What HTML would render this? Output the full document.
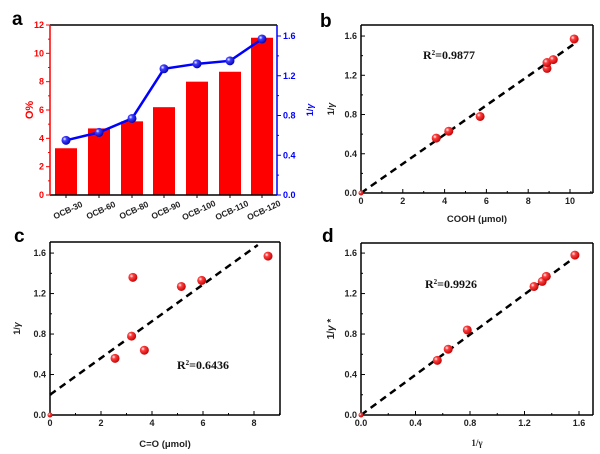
<!DOCTYPE html>
<html><head><meta charset="utf-8"><style>
html,body{margin:0;padding:0;background:#fff;width:600px;height:454px;overflow:hidden}
svg{display:block;font-family:"Liberation Sans",Arial,sans-serif}
</style></head><body>
<svg id="s" width="600" height="454" viewBox="0 0 600 454" xmlns="http://www.w3.org/2000/svg">
<defs>
<radialGradient id="rb" cx="0.35" cy="0.35" r="0.7"><stop offset="0" stop-color="#fff"/><stop offset="0.3" stop-color="#ff4040"/><stop offset="1" stop-color="#c00000"/></radialGradient>
<radialGradient id="bb" cx="0.35" cy="0.35" r="0.7"><stop offset="0" stop-color="#fff"/><stop offset="0.3" stop-color="#4040ff"/><stop offset="1" stop-color="#0000b0"/></radialGradient>
</defs>
<g id="g"></g>
<text x="12" y="25" font-size="19" font-weight="bold">a</text>
<text x="320" y="27" font-size="19" font-weight="bold">b</text>
<text x="14" y="242" font-size="19" font-weight="bold">c</text>
<text x="322" y="242" font-size="19" font-weight="bold">d</text>
</svg>
<script>
var g=document.getElementById('g'),h='';
function L(x1,y1,x2,y2,c,w,d){h+='<line x1="'+x1+'" y1="'+y1+'" x2="'+x2+'" y2="'+y2+'" stroke="'+c+'" stroke-width="'+(w||1)+'"'+(d?' stroke-dasharray="'+d+'"':'')+'/>';}
function T(x,y,s,o){o=o||{};h+='<text x="'+x+'" y="'+y+'" font-size="'+(o.fs||9)+'" font-weight="'+(o.fw||'bold')+'" fill="'+(o.c||'#222')+'" text-anchor="'+(o.a||'middle')+'"'+(o.t?' transform="'+o.t+'"':'')+(o.ff?' font-family="'+o.ff+'"':'')+'>'+s+'</text>';}
// Panel a
var ax0=50,ax1=277,ay0=195,ay1=25;
var vals=[3.3,4.7,5.2,6.2,8.0,8.7,11.1],lv=[0.55,0.63,0.77,1.27,1.32,1.35,1.57],cx=[66,99,132,164,197,230,262];
var names=['OCB-30','OCB-60','OCB-80','OCB-90','OCB-100','OCB-110','OCB-120'];
var yl=function(v){return ay0-v*(170/12);}, yr=function(v){return ay0-v*(159/1.6);};
for(var i=0;i<7;i++){h+='<rect x="'+(cx[i]-11)+'" y="'+yl(vals[i])+'" width="22" height="'+(ay0-yl(vals[i]))+'" fill="#ff0000"/>';}
var pts=cx.map(function(x,i){return x+','+yr(lv[i]);}).join(' ');
h+='<polyline points="'+pts+'" fill="none" stroke="#0000ff" stroke-width="2.5"/>';
for(i=0;i<7;i++)h+='<circle cx="'+cx[i]+'" cy="'+yr(lv[i])+'" r="4.5" fill="url(#bb)"/>';
L(ax0,ay1,ax1,ay1,'#000',1.5);L(ax0,ay0,ax1,ay0,'#000',1.5);
L(ax0,ay1,ax0,ay0,'#ff0000',1.5);L(ax1,ay1,ax1,ay0,'#0000ff',1.5);
for(var v=0;v<=12;v+=1){var y=yl(v);L(ax0-(v%2?2:4),y,ax0,y,'#ff0000',1);if(v%2==0)T(ax0-6,y+3,v,{c:'#ff0000',a:'end'});}
for(v=0;v<=8;v++){y=yr(v*0.2);L(ax1,y,ax1+(v%2?2:4),y,'#0000ff',1);if(v%2==0)T(ax1+6,y+3,(v*0.2).toFixed(1),{c:'#0000ff',a:'start'});}
for(i=0;i<7;i++){T(cx[i]+2,214,names[i],{fs:8.5,a:'middle',t:'rotate(-25 '+cx[i]+' 211)'});L(cx[i],ay0,cx[i],ay0+3,'#000',1);}
T(33,110,'O%',{c:'#ff0000',fs:11,t:'rotate(-90 33 110)'});
T(313,110,'1/<tspan font-style="italic">γ</tspan>',{c:'#0000ff',fs:9,t:'rotate(-90 313 110)'});
// generic scatter panel
function P(o){
 var X=function(v){return o.x0+(v-o.xmin)*o.sx;},Y=function(v){return o.y0-v*o.sy;};
 L(o.x0,o.yt,o.x1,o.yt,'#000',1.5);L(o.x0,o.y0,o.x1,o.y0,'#000',1.5);L(o.x0,o.yt,o.x0,o.y0,'#000',1.5);L(o.x1,o.yt,o.x1,o.y0,'#000',1.5);
 for(var k=0;k<=8;k++){var y=Y(k*0.2);L(o.x0,y,o.x0+(k%2?2:4),y,'#000');if(k%2==0)T(o.x0-4,y+3,(k*0.2).toFixed(1),{a:'end'});}
 o.xt.forEach(function(t,j){var x=X(t);if(x>o.x1)return;L(x,o.y0,x,o.y0-(j%2?2:4),'#000');if(j%2==0)T(x,o.y0+11,o.xf(t));});
 L(X(o.l[0]),Y(o.l[1]),X(o.l[2]),Y(o.l[3]),'#000',2.5,'7,5');
 o.p.forEach(function(p){h+='<circle cx="'+X(p[0])+'" cy="'+Y(p[1])+'" r="'+(p[0]==0?2.5:4.5)+'" fill="url(#rb)"/>';});
 T(o.r[0],o.r[1],'R<tspan font-size="7" dy="-4">2</tspan><tspan dy="4">='+o.r[2]+'</tspan>',{fs:12,ff:'Liberation Serif',a:'start',c:'#111'});
 T((o.x0+o.x1)/2,o.xl[1],o.xl[0],{fs:o.xl[2]||9.5,ff:o.xl[3]});
 T(o.yl[1],(o.yt+o.y0)/2,o.yl[0],{fs:o.yl[2]||9,t:'rotate(-90 '+o.yl[1]+' '+((o.yt+o.y0)/2)+')'});
}
var xs=[];for(var t=0;t<=11;t+=1)xs.push(t);
P({x0:361,x1:593,yt:25,y0:193,xmin:0,sx:20.9,sy:98.1,xt:xs,xf:function(t){return t;},l:[0,0,10.2,1.52],
 p:[[0,0],[3.6,0.56],[4.2,0.63],[5.7,0.78],[8.9,1.27],[8.9,1.33],[9.2,1.36],[10.2,1.57]],r:[423,59,'0.9877'],xl:['COOH (μmol)',222],yl:['1/<tspan font-style="italic">γ</tspan>',334]});
var xc=[];for(t=0;t<=9;t+=1)xc.push(t);
P({x0:50,x1:280,yt:242,y0:415,xmin:0,sx:25.5,sy:101.2,xt:xc,xf:function(t){return t;},l:[0,0.2,8.15,1.68],
 p:[[0,0],[2.55,0.56],[3.2,0.78],[3.25,1.36],[3.7,0.64],[5.15,1.27],[5.95,1.33],[8.55,1.57]],r:[177,369,'0.6436'],xl:['C=O (μmol)',447],yl:['1/<tspan font-style="italic">γ</tspan>',20]});
var xd=[];for(t=0;t<=8;t++)xd.push(t*0.2);
P({x0:361,x1:593,yt:243,y0:415,xmin:0,sx:136.25,sy:101.2,xt:xd,xf:function(t){return t.toFixed(1);},l:[0,0,1.57,1.56],
 p:[[0,0],[0.56,0.54],[0.64,0.65],[0.78,0.84],[1.27,1.27],[1.33,1.32],[1.36,1.37],[1.57,1.58]],r:[425,288,'0.9926'],xl:['1/γ',446,9,'Liberation Serif'],yl:['1/<tspan font-style="italic">γ</tspan> *',334,10]});
g.innerHTML=h;
</script>
</body></html>
